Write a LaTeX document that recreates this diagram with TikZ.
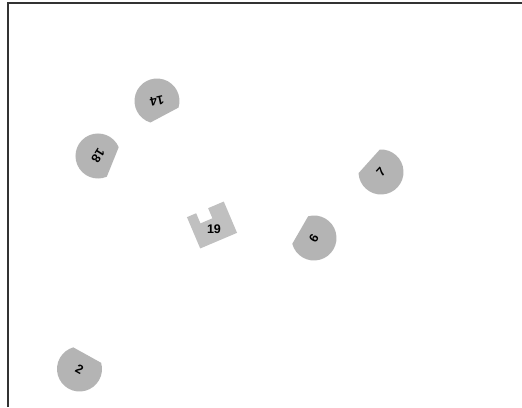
\documentclass[tikz,border=0pt]{standalone}
\usepackage{fontspec}
\setmainfont{Liberation Sans}
\tikzset{
  seatfill/.style={fill=seatgray},
  lbl/.style={font=\bfseries\fontsize{12.5}{13}\selectfont, inner sep=0pt, text=black},
  framestyle/.style={draw=black!80, line width=1.3pt}
}
\definecolor{seatgray}{RGB}{180,180,180}
\definecolor{boxgray}{RGB}{192,192,192}
% #1 name, #2 x, #3 y, #4 normal angle of flat side, #5 label, #6 text rotation
\newcommand\seatshape[6]{%
  \fill[seatfill] (#2,#3) ++(#4+45:22.5) arc[start angle=#4+45, end angle=#4+315, radius=22.5] -- cycle;
  \node[lbl, rotate=#6] (#1) at (#2,#3) {#5};
}
\begin{document}
\begin{tikzpicture}[x=1pt,y=1pt]
\useasboundingbox (0,0) rectangle (522,407);
\fill[white] (0,0) rectangle (522,407);
\coordinate (fb) at (8,0);
\coordinate (fc) at (8,404);
\coordinate (fr) at (522,404);
\draw[framestyle] (fb) -- (fc) -- (fr);
\seatshape{s14}{157}{306}{-62}{14}{192}
\seatshape{s18}{98}{251}{-22}{18}{-122}
\seatshape{s7}{381}{235}{138}{7}{48}
\seatshape{s6}{314}{169}{150}{6}{60}
\seatshape{s2}{79.5}{38}{61}{2}{-29}
\begin{scope}[shift={(212,182)}, rotate=23]
  \fill[boxgray] (-20,-17) -- (20,-17) -- (20,17) -- (3,17) -- (3,6) -- (-10,6) -- (-10,17) -- (-20,17) -- cycle;
  \node[lbl] (s19) at (0,-5) {19};
\end{scope}
\end{tikzpicture}
\end{document}
